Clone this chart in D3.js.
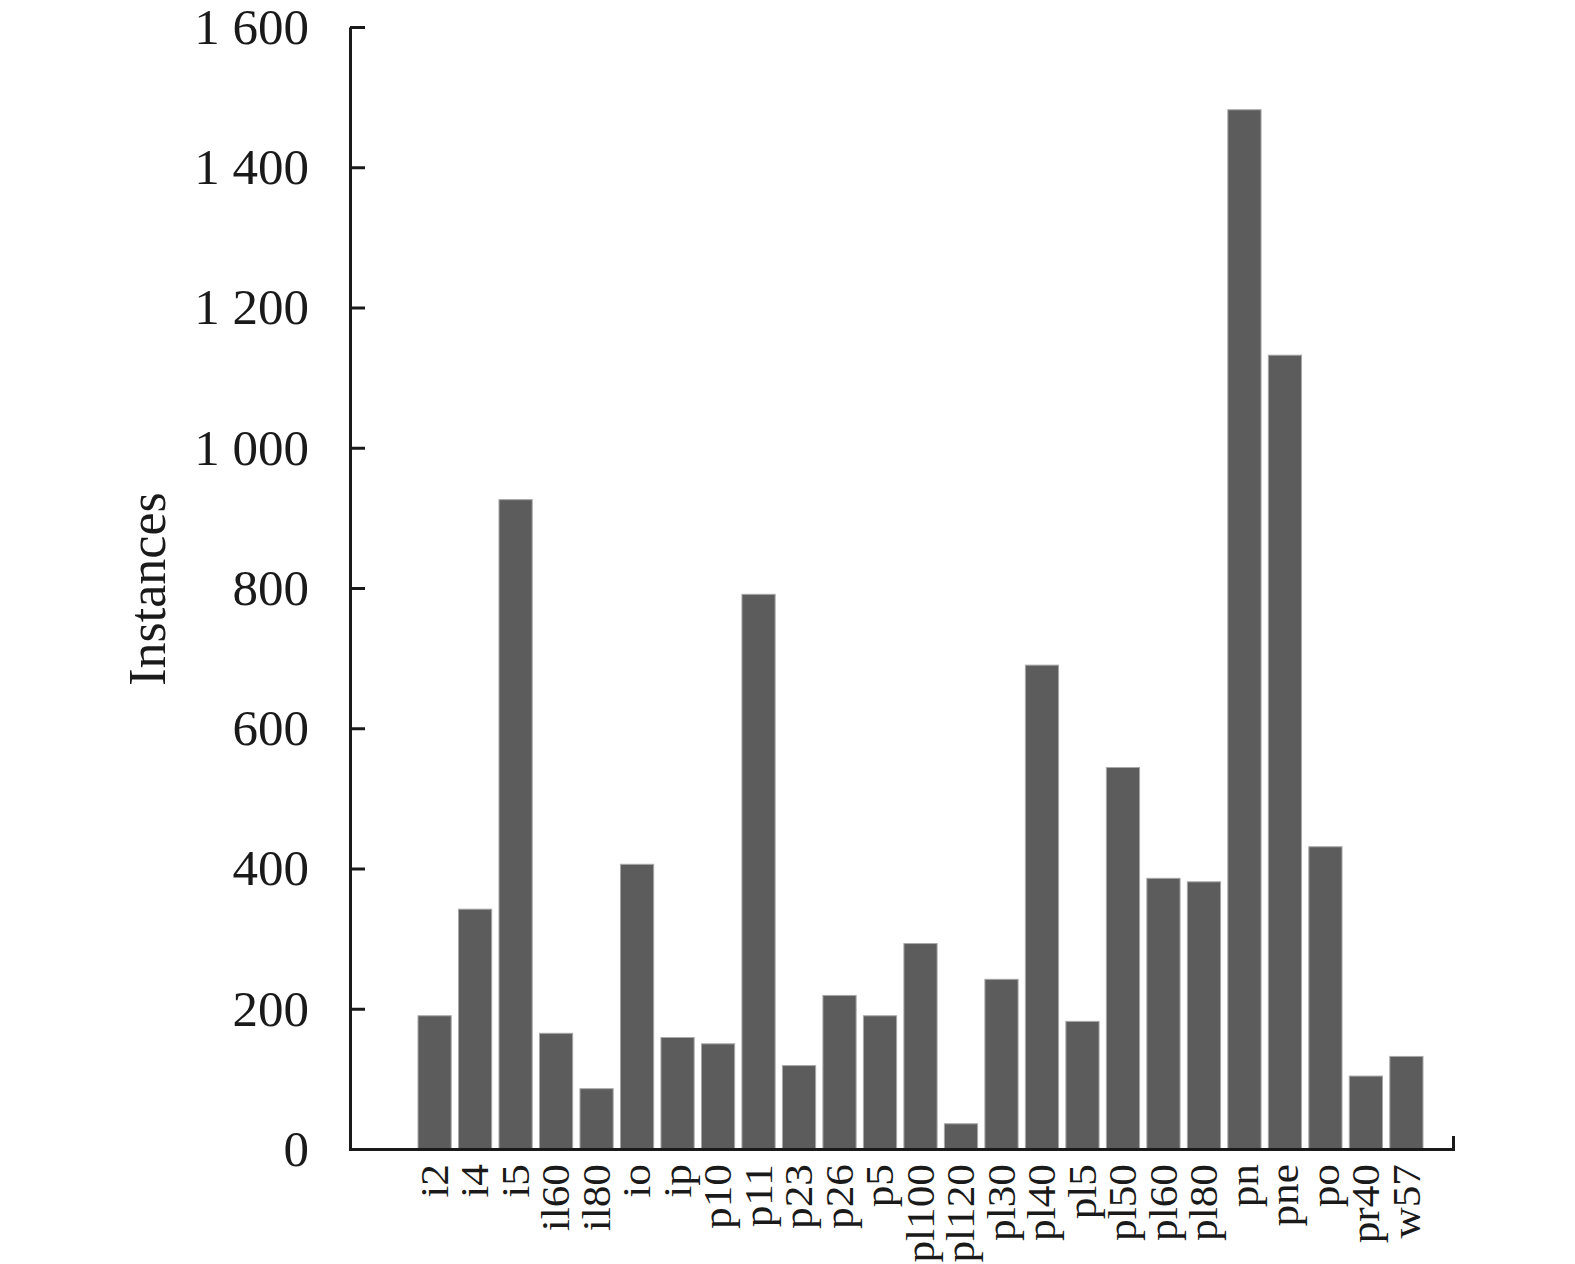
<!DOCTYPE html>
<html>
<head>
<meta charset="utf-8">
<script src="https://cdn.jsdelivr.net/npm/d3@7"></script>
<style>
  body { margin: 0; background: #fff; }
  text { font-family: "Liberation Serif", "Times New Roman", serif; fill: #1a1a1a; }
</style>
</head>
<body>
<svg width="1575" height="1264"></svg>
<script>
// class names and instance counts
var categories = ["i2", "i4", "i5", "il60", "il80", "io", "ip", "p10", "p11", "p23", "p26", "p5",
    "pl100", "pl120", "pl30", "pl40", "pl5", "pl50", "pl60", "pl80", "pn", "pne", "po", "pr40", "w57"];
var instances = [190, 342, 926, 165, 86, 406, 159, 150, 791, 119, 219, 190,
    293, 36, 242, 690, 182, 544, 386, 381, 1482, 1132, 431, 104, 132];
var yTicks = [0, 200, 400, 600, 800, 1000, 1200, 1400, 1600];

var svg = d3.select("svg"),
    margin = {top: 27, right: 122, bottom: 115, left: 350},
    width = +svg.attr("width") - margin.left - margin.right,
    height = +svg.attr("height") - margin.top - margin.bottom;

var g = svg.append("g")
    .attr("transform", "translate(" + margin.left + "," + margin.top + ")");

var x = d3.scaleBand()
    .domain(categories)
    .range([0, width])
    .paddingInner(0.18)
    .paddingOuter(1.21)
    .align(0.694);

var y = d3.scaleLinear()
    .domain([0, 1600])
    .range([height, 0]);

var fmt = function(d) { return d3.format(",")(d).replace(",", " "); };

// bars
g.selectAll(".bar")
    .data(instances)
    .enter().append("rect")
    .attr("class", "bar")
    .attr("x", function(d, i) { return x(categories[i]); })
    .attr("width", x.bandwidth())
    .attr("y", function(d) { return y(d); })
    .attr("height", function(d) { return y(0) - y(d); })
    .attr("fill", "#5d5c5d")
    .attr("stroke", "#a8a8a8")
    .attr("stroke-width", 1);

// y axis, ticks point inward
var yAxis = g.append("g")
    .call(d3.axisLeft(y).tickValues(yTicks).tickSizeInner(-15).tickSizeOuter(0)
        .tickPadding(41).tickFormat(fmt));
yAxis.selectAll("path, line").attr("stroke", "#1a1a1a").attr("stroke-width", 3);
yAxis.selectAll("text")
    .style("font-size", "51px")
    .style("font-family", "'Liberation Serif', serif")
    .attr("fill", "#1a1a1a");

// x axis: plain line with a small upward cap at the right end
var xAxis = g.append("g")
    .attr("transform", "translate(0," + height + ")")
    .call(d3.axisBottom(x).tickSize(0).tickSizeOuter(-13).tickPadding(0));
xAxis.select(".domain").attr("stroke", "#1a1a1a").attr("stroke-width", 3);
xAxis.selectAll("text")
    .style("font-size", "40px")
    .style("font-family", "'Liberation Serif', serif")
    .attr("fill", "#1a1a1a")
    .attr("text-anchor", "end")
    .attr("x", -14)
    .attr("y", 0)
    .attr("dy", "0.33em")
    .attr("transform", "rotate(-90) scale(1.08,1)");

// y label
svg.append("text")
    .attr("transform", "translate(165,589) rotate(-90)")
    .attr("text-anchor", "middle")
    .style("font-size", "52px")
    .text("Instances");
</script>
</body>
</html>
